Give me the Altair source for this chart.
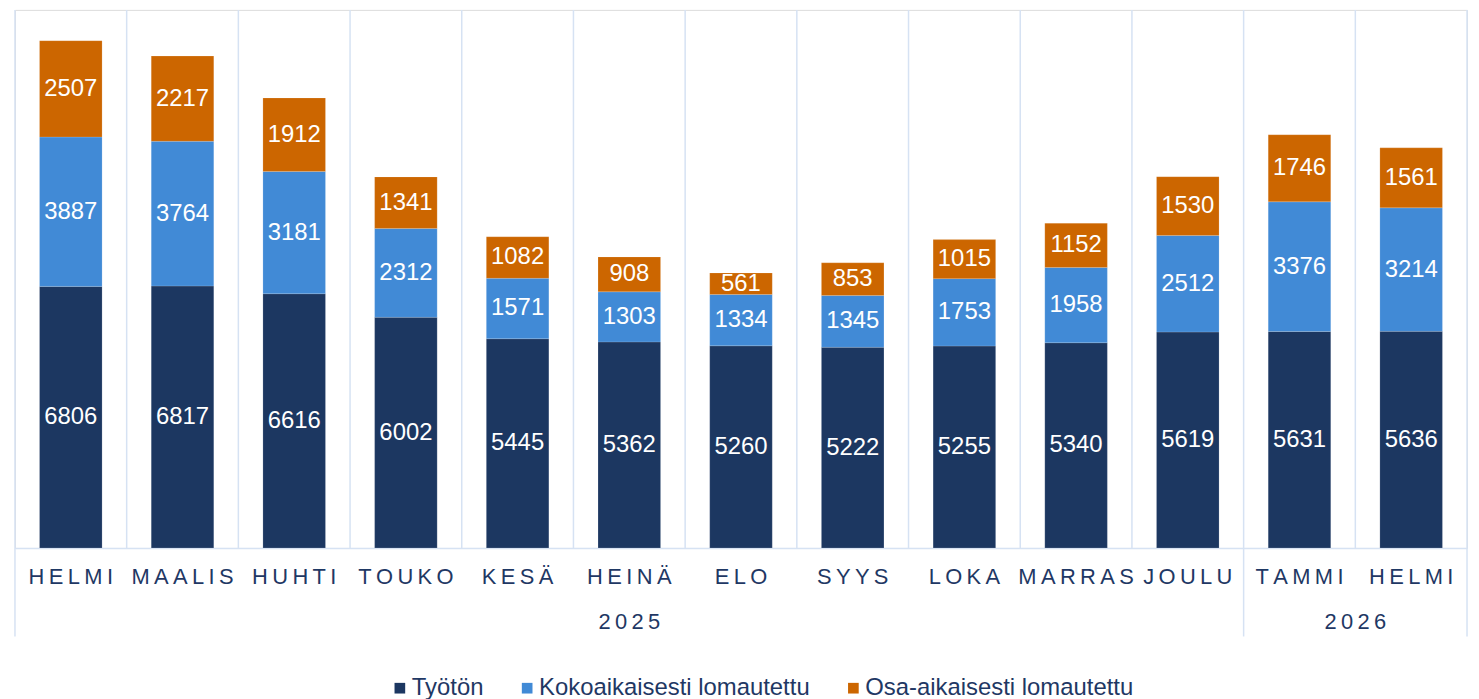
import altair as alt
import pandas as pd

months = ["HELMI", "MAALIS", "HUHTI", "TOUKO", "KESÄ", "HEINÄ", "ELO",
          "SYYS", "LOKA", "MARRAS", "JOULU", "TAMMI", "HELMI"]
years = ["2025"] * 11 + ["2026"] * 2
series = ["Työtön", "Kokoaikaisesti lomautettu", "Osa-aikaisesti lomautettu"]
tyoton = [6806, 6817, 6616, 6002, 5445, 5362, 5260, 5222, 5255, 5340, 5619, 5631, 5636]
koko = [3887, 3764, 3181, 2312, 1571, 1303, 1334, 1345, 1753, 1958, 2512, 3376, 3214]
osa = [2507, 2217, 1912, 1341, 1082, 908, 561, 853, 1015, 1152, 1530, 1746, 1561]
colors = ["#1C3761", "#418AD6", "#CC6600"]

TS = "\u2009"
keys = [TS.join(m) + "|" + y for m, y in zip(months, years)]

rows = []
for i, k in enumerate(keys):
    for j, (s, vals) in enumerate(zip(series, [tyoton, koko, osa])):
        rows.append({"key": k, "series": s, "order": j, "value": vals[i]})
df = pd.DataFrame(rows)

W, H = 1460, 541
YMAX = 13900
grid_color = "#D6E2F3"
text_color = "#1F3864"
FONT = "Liberation Sans"

xscale = alt.Scale(domain=keys, paddingInner=0, paddingOuter=0)

x_enc = alt.X("key:N", sort=keys, title=None, scale=xscale,
              axis=alt.Axis(labelExpr="split(datum.label, '|')[0]", labelAngle=0,
                            labelAlign="center", bandPosition=0.5,
                            ticks=False, labelFontSize=22, labelFont=FONT,
                            labelColor=text_color, labelPadding=29, labelBaseline="middle",
                            labelOverlap=False, labelLimit=0,
                            domainColor=grid_color, domainWidth=1.5, grid=False))

base = alt.Chart(df).transform_stack(
    stack="value", groupby=["key"], as_=["y0", "y1"],
    sort=[alt.SortField("order", order="ascending")]
).transform_calculate(mid="(datum.y0 + datum.y1) / 2")

bars = base.mark_bar(width=alt.RelativeBandSize(0.56), stroke="#FFFFFF",
                     strokeOpacity=0.3, strokeWidth=0.5).encode(
    x=x_enc,
    y=alt.Y("y0:Q", scale=alt.Scale(domain=[0, YMAX]), axis=None),
    y2="y1:Q",
    color=alt.Color("series:N", sort=series,
                    scale=alt.Scale(domain=series, range=colors),
                    legend=alt.Legend(title=None, orient="none", direction="horizontal",
                                      legendX=375, legendY=670,
                                      symbolType="square", symbolSize=115,
                                      symbolStrokeWidth=0, labelLimit=0,
                                      labelFontSize=24, labelFont=FONT,
                                      labelColor=text_color, labelOffset=0,
                                      columnPadding=31)),
    order=alt.Order("order:Q"),
)

labels = base.mark_text(color="white", fontSize=24, font=FONT,
                        baseline="middle").encode(
    x=alt.X("key:N", sort=keys, scale=xscale),
    y=alt.Y("mid:Q"),
    text=alt.Text("value:Q", format="d"),
)

sep_df = pd.DataFrame({"key": keys})
seps = alt.Chart(sep_df).mark_rule(color=grid_color, strokeWidth=1.5).encode(
    x=alt.X("key:N", sort=keys, scale=xscale, bandPosition=0),
    y=alt.value(0),
    y2=alt.value(H),
)
long_df = pd.DataFrame({"key": [keys[0], keys[11]]})
long_seps = alt.Chart(long_df).mark_rule(color=grid_color, strokeWidth=1.5).encode(
    x=alt.X("key:N", sort=keys, scale=xscale, bandPosition=0),
    y=alt.value(H),
    y2=alt.value(630),
)
right_sep = alt.Chart(long_df.head(1)).mark_rule(color=grid_color, strokeWidth=1.5).encode(
    x=alt.value(W), y=alt.value(0), y2=alt.value(630),
)

year_df = pd.DataFrame({"key": [keys[5], keys[11]], "label": [TS.join("2025"), TS.join("2026")]})
year_a = alt.Chart(year_df.iloc[[0]]).mark_text(fontSize=22, font=FONT,
                                                color=text_color, baseline="middle").encode(
    x=alt.X("key:N", sort=keys, scale=xscale, bandPosition=0.5), y=alt.value(615),
    text="label:N")
year_b = alt.Chart(year_df.iloc[[1]]).mark_text(fontSize=22, font=FONT,
                                                color=text_color, baseline="middle").encode(
    x=alt.X("key:N", sort=keys, scale=xscale, bandPosition=1.0), y=alt.value(615),
    text="label:N")

chart = alt.layer(seps, long_seps, right_sep, bars, labels, year_a, year_b).properties(
    width=W, height=H,
    autosize=alt.AutoSizeParams(type="none"),
    padding={"left": 7, "top": 0, "right": 4, "bottom": 160}
).configure_view(strokeWidth=0, stroke="transparent").configure(background="white")

chart.save("out.html", embed_options={"renderer": "svg", "actions": False})
